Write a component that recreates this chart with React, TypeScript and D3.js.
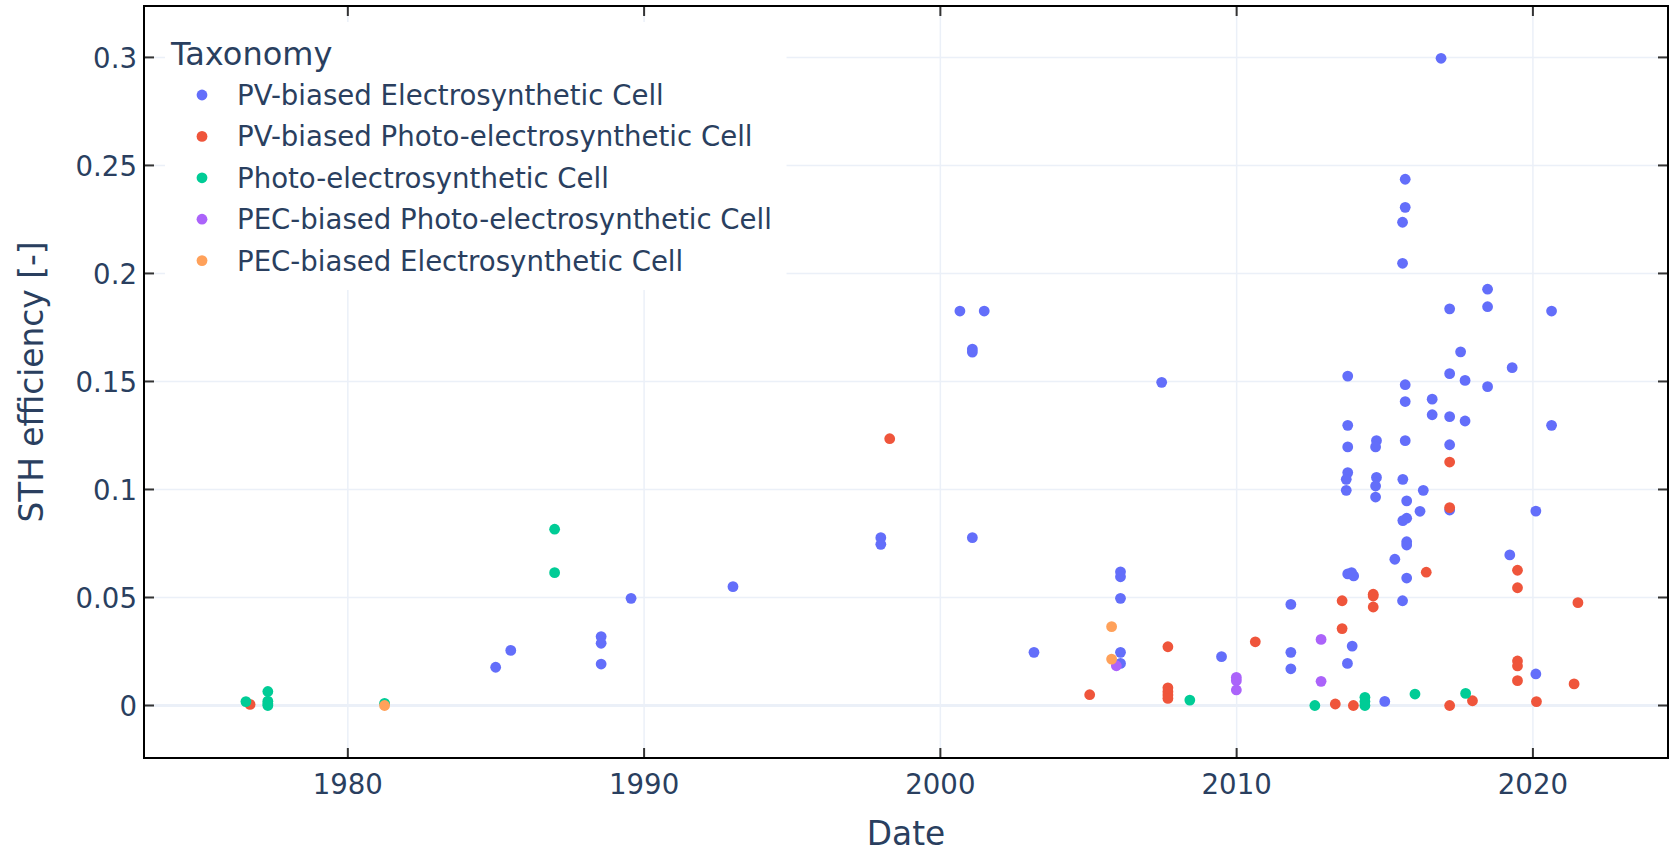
import React from "react";
import * as d3 from "d3";

const seriesNames = [
  "PV-biased Electrosynthetic Cell",
  "PV-biased Photo-electrosynthetic Cell",
  "Photo-electrosynthetic Cell",
  "PEC-biased Photo-electrosynthetic Cell",
  "PEC-biased Electrosynthetic Cell",
];
const seriesColors = ["#636efa", "#EF553B", "#00cc96", "#ab63fa", "#FFA15A"];

// PV-biased Electrosynthetic Cell
const pvEcYears = [
  1984.99, 1985.5, 1988.55, 1988.55, 1988.55, 1989.56, 1993.0, 1997.99, 1997.99,
  2000.66, 2001.08, 2001.08, 2001.08, 2001.48, 2003.16, 2006.08, 2006.08, 2006.08,
  2006.08, 2006.08, 2007.47, 2009.49, 2011.83, 2011.83, 2011.83, 2013.75, 2013.75,
  2013.75, 2013.75, 2013.7, 2013.7, 2013.75, 2013.88, 2013.95, 2013.9, 2013.74,
  2014.72, 2014.69, 2014.72, 2014.69, 2014.69, 2015.0, 2015.34, 2015.69, 2015.69,
  2015.6, 2015.6, 2015.69, 2015.69, 2015.69, 2015.61, 2015.74, 2015.74, 2015.61,
  2015.74, 2015.74, 2015.74, 2015.6, 2016.19, 2016.3, 2016.6, 2016.6, 2016.9,
  2017.19, 2017.19, 2017.19, 2017.19, 2017.19, 2017.56, 2017.71, 2017.71, 2018.47,
  2018.47, 2018.47, 2019.22, 2019.3, 2020.1, 2020.1, 2020.63, 2020.63,
];
const pvEcValues = [
  0.0177, 0.0255, 0.0319, 0.0288, 0.0192, 0.0496, 0.055, 0.0777, 0.0746,
  0.1826, 0.165, 0.1636, 0.0777, 0.1826, 0.0246, 0.0619, 0.0596, 0.0496,
  0.0246, 0.0195, 0.1496, 0.0226, 0.0468, 0.0246, 0.017, 0.1525, 0.1297,
  0.1197, 0.1078, 0.1047, 0.0996, 0.0609, 0.0615, 0.06, 0.0275, 0.0195,
  0.1226, 0.1197, 0.1056, 0.1016, 0.0965, 0.0019, 0.0677, 0.2436, 0.2306,
  0.2237, 0.2047, 0.1485, 0.1407, 0.1226, 0.1047, 0.0947, 0.0867, 0.0856,
  0.0758, 0.0743, 0.059, 0.0485, 0.0899, 0.0996, 0.1418, 0.1346, 0.2996,
  0.1836, 0.1536, 0.1337, 0.1207, 0.0905, 0.1637, 0.1505, 0.1317, 0.1927,
  0.1846, 0.1476, 0.0697, 0.1564, 0.09, 0.0146, 0.1826, 0.1297,
];

// PV-biased Photo-electrosynthetic Cell
const pvPecYears = [
  1976.7, 1998.29, 2005.04, 2007.68, 2007.68, 2007.68, 2007.68, 2007.68, 2010.63,
  2013.33, 2013.56, 2013.56, 2013.94, 2014.61, 2014.61, 2014.61, 2016.4, 2017.19,
  2017.19, 2017.19, 2017.96, 2019.48, 2019.48, 2019.48, 2019.48, 2019.48, 2020.12,
  2021.39, 2021.52,
];
const pvPecValues = [
  0.0005, 0.1235, 0.005, 0.0272, 0.0082, 0.0064, 0.0049, 0.0033, 0.0295,
  0.0007, 0.0485, 0.0356, 0.0, 0.0515, 0.0507, 0.0456, 0.0617, 0.1127,
  0.0916, 0.0, 0.0022, 0.0626, 0.0545, 0.0206, 0.0183, 0.0115, 0.0018,
  0.01, 0.0476,
];

// Photo-electrosynthetic Cell
const pecYears = [
  1976.56, 1977.3, 1977.3, 1977.3, 1977.3, 1981.24, 1986.98, 1986.98, 2008.42,
  2012.64, 2014.33, 2014.33, 2014.33, 2016.02, 2017.73,
];
const pecValues = [
  0.0018, 0.0065, 0.002, 0.0008, 0.0, 0.001, 0.0816, 0.0615, 0.0025,
  0.0, 0.0038, 0.0018, 0.0, 0.0053, 0.0056,
];

// PEC-biased Photo-electrosynthetic Cell
const pecBiasedPecYears = [2005.94, 2009.99, 2009.99, 2009.99, 2012.85, 2012.85];
const pecBiasedPecValues = [0.0184, 0.013, 0.0115, 0.0072, 0.0306, 0.0112];

// PEC-biased Electrosynthetic Cell
const pecBiasedEcYears = [1981.24, 2005.78, 2005.78];
const pecBiasedEcValues = [0.0, 0.0365, 0.0215];

const xTickValues = [1980, 1990, 2000, 2010, 2020];
const yTickValues = [0, 0.05, 0.1, 0.15, 0.2, 0.25, 0.3];
const yTickLabels = ["0", "0.05", "0.1", "0.15", "0.2", "0.25", "0.3"];

const seriesYears = [pvEcYears, pvPecYears, pecYears, pecBiasedPecYears, pecBiasedEcYears];
const seriesValues = [pvEcValues, pvPecValues, pecValues, pecBiasedPecValues, pecBiasedEcValues];

const W = 1671;
const H = 852;
const L = 144, R = 1668, T = 6, B = 758;
const FONT = "'DejaVu Sans', Verdana, sans-serif";
const TEXT = "#2a3f5f";
const GRID = "#EBF0F8";
const TICK_FS = 27.6;
const TITLE_FS = 32.8;

export default function App() {
  const x = d3.scaleLinear().domain([1973.12, 2024.56]).range([L, R]);
  const y = d3.scaleLinear().domain([-0.0243, 0.3238]).range([B, T]);

  const legendX = 165, legendY = 22, legendW = 786.5 - 165, legendH = 290 - 22;

  return (
    <svg
      width={W}
      height={H}
      style={{ position: "absolute", left: 0, top: 0, background: "#fff" }}
      fontFamily={FONT}
    >
      <rect x={0} y={0} width={W} height={H} fill="#fff" />
      {/* grid */}
      {xTickValues.map((t) => (
        <line key={"gx" + t} x1={x(t)} x2={x(t)} y1={T} y2={B} stroke={GRID} strokeWidth={1.5} />
      ))}
      {yTickValues.map((t) => (
        <line key={"gy" + t} x1={L} x2={R} y1={y(t)} y2={y(t)} stroke={GRID} strokeWidth={t === 0 ? 3 : 1.5} />
      ))}
      {/* points */}
      {seriesYears.map((yrs, si) => (
        <g key={"s" + si} fill={seriesColors[si]}>
          {yrs.map((yr, i) => (
            <circle key={i} cx={x(yr)} cy={y(seriesValues[si][i])} r={5.4} />
          ))}
        </g>
      ))}
      {/* ticks inside, mirrored */}
      {xTickValues.map((t) => (
        <g key={"tx" + t} stroke="#333" strokeWidth={2}>
          <line x1={x(t)} x2={x(t)} y1={B} y2={B - 10} />
          <line x1={x(t)} x2={x(t)} y1={T} y2={T + 10} />
        </g>
      ))}
      {yTickValues.map((t) => (
        <g key={"ty" + t} stroke="#333" strokeWidth={2}>
          <line x1={L} x2={L + 10} y1={y(t)} y2={y(t)} />
          <line x1={R} x2={R - 10} y1={y(t)} y2={y(t)} />
        </g>
      ))}
      {/* frame */}
      <rect x={L} y={T} width={R - L} height={B - T} fill="none" stroke="#000" strokeWidth={2} />
      {/* tick labels */}
      {xTickValues.map((t) => (
        <text key={"lx" + t} x={x(t)} y={794} textAnchor="middle" fontSize={TICK_FS} fill={TEXT}>
          {String(t)}
        </text>
      ))}
      {yTickValues.map((t, i) => (
        <text key={"ly" + t} x={137} y={y(t) + 10.5} textAnchor="end" fontSize={TICK_FS} fill={TEXT}>
          {yTickLabels[i]}
        </text>
      ))}
      {/* axis titles */}
      <text x={(L + R) / 2} y={845} textAnchor="middle" fontSize={TITLE_FS} fill={TEXT}>
        Date
      </text>
      <text
        transform={`translate(43, ${(T + B) / 2}) rotate(-90)`}
        textAnchor="middle"
        fontSize={TITLE_FS}
        fill={TEXT}
      >
        STH efficiency [-]
      </text>
      {/* legend */}
      <rect x={legendX} y={legendY} width={legendW} height={legendH} fill="#fff" />
      <text x={171} y={65} fontSize={32} fill={TEXT}>
        Taxonomy
      </text>
      {seriesNames.map((name, i) => {
        const cy = 95 + i * 41.4;
        return (
          <g key={"lg" + i}>
            <circle cx={202} cy={cy} r={5.4} fill={seriesColors[i]} />
            <text x={237} y={cy + 10} fontSize={TICK_FS} fill={TEXT}>
              {name}
            </text>
          </g>
        );
      })}
    </svg>
  );
}
